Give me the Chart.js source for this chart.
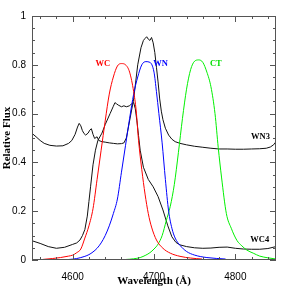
<!DOCTYPE html>
<html>
<head>
<meta charset="utf-8">
<script src="https://cdn.jsdelivr.net/npm/chart.js@4.4.1/dist/chart.umd.min.js"></script>
<style>
  html, body { margin: 0; padding: 0; background: #fff; }
  #wrap { width: 291px; height: 291px; }
</style>
</head>
<body>
<div id="wrap"><canvas id="flux" width="291" height="291"></canvas></div>
<script>
// filter transmission curves
const wcWave = [4558, 4565, 4575, 4585, 4595, 4600, 4605, 4610, 4615, 4620, 4625, 4630, 4635, 4640, 4645, 4650, 4655, 4660, 4665, 4670, 4675, 4678, 4681, 4685, 4689, 4693, 4697, 4703, 4711, 4720, 4732, 4745, 4759];
const wcFlux = [0.0, 0.003, 0.006, 0.010, 0.016, 0.020, 0.030, 0.045, 0.090, 0.140, 0.210, 0.330, 0.450, 0.570, 0.680, 0.750, 0.795, 0.805, 0.800, 0.770, 0.690, 0.615, 0.490, 0.370, 0.270, 0.190, 0.135, 0.082, 0.048, 0.028, 0.015, 0.008, 0.004];

const wnWave = [4587, 4595, 4605, 4615, 4620, 4625, 4630, 4635, 4640, 4645, 4650, 4655, 4660, 4665, 4670, 4675, 4680, 4685, 4690, 4695, 4700, 4703, 4706, 4710, 4714, 4718, 4722, 4726, 4732, 4740, 4750, 4765, 4788];
const wnFlux = [0.0, 0.002, 0.006, 0.015, 0.022, 0.033, 0.048, 0.070, 0.100, 0.140, 0.190, 0.250, 0.360, 0.470, 0.580, 0.680, 0.750, 0.800, 0.813, 0.810, 0.770, 0.690, 0.600, 0.480, 0.330, 0.200, 0.130, 0.090, 0.060, 0.035, 0.020, 0.010, 0.004];

const ctWave = [4654, 4665, 4675, 4683, 4690, 4695, 4700, 4705, 4710, 4715, 4720, 4725, 4730, 4735, 4740, 4745, 4750, 4755, 4760, 4765, 4770, 4775, 4779, 4783, 4789, 4795, 4802, 4808, 4814, 4822, 4830, 4840, 4850];
const ctFlux = [0.0, 0.002, 0.005, 0.010, 0.020, 0.030, 0.045, 0.065, 0.100, 0.160, 0.220, 0.310, 0.440, 0.580, 0.700, 0.780, 0.815, 0.820, 0.810, 0.770, 0.710, 0.600, 0.460, 0.340, 0.190, 0.130, 0.080, 0.058, 0.041, 0.028, 0.016, 0.009, 0.004];

// stellar spectra
const wn3Wave = [4550, 4555, 4560, 4565, 4572, 4580, 4588, 4595, 4599, 4603, 4606, 4608, 4610, 4612, 4614, 4616, 4619, 4621, 4623, 4625, 4627, 4630, 4632, 4636, 4640, 4645, 4650, 4655, 4660, 4663, 4666, 4670, 4675, 4680, 4684, 4687, 4689, 4691, 4693, 4695, 4697, 4699, 4701, 4703, 4705, 4707, 4709, 4711, 4714, 4718, 4722, 4726, 4732, 4740, 4750, 4760, 4770, 4780, 4790, 4800, 4810, 4820, 4830, 4838, 4843, 4847, 4850];
const wn3Flux = [0.519, 0.505, 0.490, 0.478, 0.470, 0.467, 0.468, 0.478, 0.490, 0.515, 0.545, 0.560, 0.550, 0.530, 0.518, 0.512, 0.520, 0.532, 0.538, 0.515, 0.498, 0.505, 0.490, 0.485, 0.483, 0.480, 0.478, 0.476, 0.477, 0.480, 0.500, 0.570, 0.660, 0.800, 0.870, 0.900, 0.908, 0.915, 0.905, 0.900, 0.912, 0.890, 0.850, 0.790, 0.730, 0.660, 0.610, 0.575, 0.540, 0.512, 0.495, 0.485, 0.478, 0.472, 0.466, 0.462, 0.458, 0.455, 0.455, 0.454, 0.454, 0.455, 0.456, 0.458, 0.463, 0.472, 0.485];

const wc4Wave = [4550, 4560, 4570, 4580, 4590, 4600, 4605, 4609, 4612, 4615, 4618, 4620, 4622, 4625, 4628, 4631, 4636, 4640, 4646, 4650, 4652, 4654, 4656, 4660, 4663, 4666, 4670, 4673, 4675, 4677, 4679, 4681, 4683, 4687, 4693, 4699, 4705, 4711, 4717, 4722, 4727, 4732, 4740, 4750, 4760, 4770, 4780, 4790, 4800, 4810, 4820, 4830, 4840, 4850];
const wc4Flux = [0.079, 0.068, 0.055, 0.048, 0.052, 0.064, 0.070, 0.082, 0.100, 0.125, 0.180, 0.240, 0.300, 0.390, 0.450, 0.490, 0.520, 0.555, 0.600, 0.630, 0.645, 0.640, 0.635, 0.628, 0.632, 0.628, 0.632, 0.642, 0.645, 0.620, 0.570, 0.510, 0.450, 0.380, 0.330, 0.300, 0.260, 0.205, 0.140, 0.095, 0.072, 0.062, 0.055, 0.050, 0.048, 0.049, 0.052, 0.053, 0.048, 0.045, 0.044, 0.044, 0.047, 0.055];

const xMajor = [4600, 4700, 4800];
const xMinor = [4560, 4580, 4600, 4620, 4640, 4660, 4680, 4700, 4720, 4740, 4760, 4780, 4800, 4820, 4840];
const yMajor = [0, 0.2, 0.4, 0.6, 0.8, 1];
const yMinor = [0.05, 0.1, 0.15, 0.25, 0.3, 0.35, 0.45, 0.5, 0.55, 0.65, 0.7, 0.75, 0.85, 0.9, 0.95];

const curveLabels = [
    { text: 'WC', x: 4637, y: 0.803, color: '#ff0000' },
    { text: 'WN', x: 4708, y: 0.803, color: '#0000ff' },
    { text: 'CT', x: 4776, y: 0.803, color: '#00e000' },
    { text: 'WN3', x: 4831, y: 0.505, color: '#000000' },
    { text: 'WC4', x: 4830, y: 0.082, color: '#000000' }
];

function pts(wave, flux) {
    return wave.map((w, i) => ({ x: w, y: flux[i] }));
}

function curve(wave, flux, color, smooth) {
    return {
        data: pts(wave, flux),
        borderColor: color,
        borderWidth: 1,
        pointRadius: 0,
        fill: false,
        cubicInterpolationMode: smooth ? 'monotone' : 'default',
        tension: 0
    };
}

const frameTicks = {
    id: 'frameTicks',
    afterDatasetsDraw(chart) {
        const ctx = chart.ctx;
        const a = chart.chartArea;
        const x = chart.scales.x;
        const y = chart.scales.y;
        ctx.save();
        ctx.strokeStyle = '#555';
        ctx.lineWidth = 1;
        ctx.strokeRect(a.left + 0.5, a.top + 0.5, a.right - a.left - 1, a.bottom - a.top - 1);
        ctx.beginPath();
        xMinor.forEach(function (v) {
            const px = Math.round(x.getPixelForValue(v)) + 0.5;
            const len = xMajor.includes(v) ? 6 : 3;
            ctx.moveTo(px, a.bottom); ctx.lineTo(px, a.bottom - len);
            ctx.moveTo(px, a.top); ctx.lineTo(px, a.top + len);
        });
        yMajor.concat(yMinor).forEach(function (v) {
            const py = Math.round(y.getPixelForValue(v)) + 0.5;
            const len = yMajor.includes(v) ? 6 : 3;
            ctx.moveTo(a.left, py); ctx.lineTo(a.left + len, py);
            ctx.moveTo(a.right, py); ctx.lineTo(a.right - len, py);
        });
        ctx.stroke();

        // y tick labels, right aligned against the frame
        ctx.fillStyle = '#000';
        ctx.font = '10px "Liberation Sans"';
        ctx.textAlign = 'right';
        ctx.textBaseline = 'middle';
        yMajor.forEach(function (v) {
            ctx.fillText(String(v), a.left - 6, y.getPixelForValue(v));
        });

        ctx.font = 'bold 8.5px "Liberation Serif"';
        ctx.textAlign = 'center';
        curveLabels.forEach(function (l) {
            ctx.fillStyle = l.color;
            ctx.fillText(l.text, x.getPixelForValue(l.x), y.getPixelForValue(l.y));
        });

        // y axis title, rotated along the left edge
        ctx.save();
        ctx.translate(7, (a.top + a.bottom) / 2);
        ctx.rotate(-Math.PI / 2);
        ctx.fillStyle = '#000';
        ctx.textBaseline = 'middle';
        ctx.font = 'bold 11px "Liberation Serif"';
        ctx.fillText('Relative Flux', 0, 0);
        ctx.restore();
        ctx.restore();
    }
};

document.addEventListener("DOMContentLoaded", function () {

    let FluxCanvas = document.getElementById("flux");

    let FluxChart = new Chart(FluxCanvas, {
        type: 'line',
        data: {
            datasets: [
                curve(wcWave, wcFlux, '#ff0000', true),
                curve(wnWave, wnFlux, '#0000ff', true),
                curve(ctWave, ctFlux, '#00f000', true),
                curve(wn3Wave, wn3Flux, '#111111', false),
                curve(wc4Wave, wc4Flux, '#111111', false)
            ]
        },
        options: {
            responsive: false,
            animation: false,
            events: [],
            layout: {
                padding: { top: 16, right: 15, left: 0, bottom: 0 }
            },
            plugins: {
                legend: { display: false },
                tooltip: { enabled: false }
            },
            scales: {
                x: {
                    type: 'linear',
                    min: 4550,
                    max: 4850,
                    afterFit: function (s) { s.height = 31; },
                    afterBuildTicks: function (s) { s.ticks = xMajor.map(v => ({ value: v })); },
                    grid: { display: false },
                    border: { display: false },
                    ticks: {
                        color: '#000',
                        padding: 3,
                        maxRotation: 0,
                        callback: function (v) { return String(v); },
                        font: { family: '"Liberation Sans"', size: 10 }
                    },
                    title: {
                        display: true,
                        text: 'Wavelength (Å)',
                        color: '#000',
                        padding: { top: 0, bottom: 3 },
                        font: { family: '"Liberation Serif"', size: 11, weight: 'bold' }
                    }
                },
                y: {
                    min: 0,
                    max: 1,
                    afterFit: function (s) { s.width = 32; },
                    grid: { display: false },
                    border: { display: false },
                    ticks: { display: false }
                }
            }
        },
        plugins: [frameTicks]
    });

});
</script>
</body>
</html>
